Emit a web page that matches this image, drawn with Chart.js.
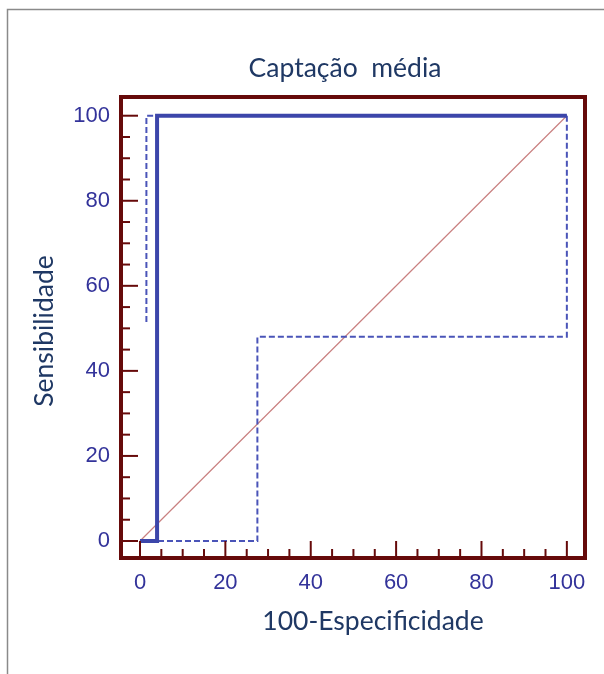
<!DOCTYPE html>
<html>
<head>
<meta charset="utf-8">
<script src="https://cdn.jsdelivr.net/npm/chart.js@4"></script>
<style>
  html, body { margin: 0; padding: 0; background: #fff; }
  #grafico { display: block; }
</style>
</head>
<body>
<canvas id="grafico" width="604" height="674"></canvas>
<script>
// curva ROC - captacao media
const rocX = [0, 4, 4, 100];
const rocY = [0, 0, 100, 100];
// limites do intervalo de confianca (tracejado)
const infX = [0, 27.5, 27.5, 100, 100];
const infY = [0, 0, 48, 48, 100];
const supX = [1.5, 1.5, 100];
const supY = [51.5, 100, 100];
// diagonal de referencia
const diagX = [0, 100];
const diagY = [0, 100];

const ticksX = [0, 20, 40, 60, 80, 100];
const ticksY = [0, 20, 40, 60, 80, 100];

const titulo = 'Captação  média';
const tituloX = '100-Especificidade';
const tituloY = 'Sensibilidade';

const marrom = '#660a0a';
const azulTexto = '#1f3864';
const azulNum = '#33339a';

function pontos(xs, ys) {
  return xs.map((x, i) => ({ x: x, y: ys[i] }));
}

const moldura = {
  id: 'moldura',
  beforeDraw(chart) {
    const ctx = chart.ctx;
    ctx.save();
    ctx.strokeStyle = '#8a8a8a';
    ctx.lineWidth = 1.5;
    ctx.beginPath();
    ctx.moveTo(7.5, 674);
    ctx.lineTo(7.5, 9.5);
    ctx.lineTo(604, 9.5);
    ctx.stroke();
    ctx.restore();
  },
  afterDraw(chart) {
    const ctx = chart.ctx;
    const a = chart.chartArea;
    const sx = chart.scales.x;
    const sy = chart.scales.y;
    ctx.save();
    ctx.strokeStyle = marrom;
    ctx.lineWidth = 2;
    for (let v = 0; v <= 100; v += 5) {
      const len = v % 20 === 0 ? 17 : 9;
      const px = sx.getPixelForValue(v);
      ctx.beginPath();
      ctx.moveTo(px, a.bottom);
      ctx.lineTo(px, a.bottom - len);
      ctx.stroke();
      const py = sy.getPixelForValue(v);
      ctx.beginPath();
      ctx.moveTo(a.left, py);
      ctx.lineTo(a.left + len, py);
      ctx.stroke();
    }
    ctx.lineWidth = 4;
    ctx.strokeRect(a.left, a.top, a.right - a.left, a.bottom - a.top);

    ctx.fillStyle = azulTexto;
    ctx.textAlign = 'center';
    ctx.textBaseline = 'middle';
    ctx.font = '26.5px Lato';
    ctx.fillText(titulo, 345, 68);
    ctx.fillText(tituloX, 373, 621);
    ctx.translate(44, 331);
    ctx.rotate(-Math.PI / 2);
    ctx.fillText(tituloY, 0, 0);
    ctx.restore();
  }
};

new Chart(document.getElementById('grafico'), {
  type: 'scatter',
  data: {
    datasets: [
      {
        data: pontos(rocX, rocY),
        showLine: true,
        borderColor: '#3c46aa',
        borderWidth: 4,
        pointRadius: 0,
        order: 0
      },
      {
        data: pontos(infX, infY),
        showLine: true,
        borderColor: '#4a54b8',
        borderWidth: 2,
        borderDash: [6, 3],
        pointRadius: 0,
        order: 1
      },
      {
        data: pontos(supX, supY),
        showLine: true,
        borderColor: '#4a54b8',
        borderWidth: 2,
        borderDash: [6, 3],
        pointRadius: 0,
        order: 1
      },
      {
        data: pontos(diagX, diagY),
        showLine: true,
        borderColor: '#c98080',
        borderWidth: 1.2,
        pointRadius: 0,
        order: 2
      }
    ]
  },
  options: {
    responsive: false,
    animation: false,
    layout: { padding: { left: 0, top: 97, right: 19, bottom: 0 } },
    plugins: {
      legend: { display: false },
      title: { display: false },
      tooltip: { enabled: false }
    },
    scales: {
      x: {
        type: 'linear',
        min: -4.45,
        max: 104.25,
        afterBuildTicks: s => { s.ticks = ticksX.map(v => ({ value: v })); },
        afterFit: s => { s.height = 116; },
        grid: { display: false, drawTicks: false },
        border: { display: false },
        ticks: { color: azulNum, font: { family: 'Liberation Sans', size: 22 }, padding: 12, maxRotation: 0 }
      },
      y: {
        type: 'linear',
        min: -4.0,
        max: 104.4,
        afterBuildTicks: s => { s.ticks = ticksY.map(v => ({ value: v })); },
        afterFit: s => { s.width = 121; },
        grid: { display: false, drawTicks: false },
        border: { display: false },
        ticks: { color: azulNum, font: { family: 'Liberation Sans', size: 22 }, padding: 11 }
      }
    }
  },
  plugins: [moldura]
});
</script>
</body>
</html>
